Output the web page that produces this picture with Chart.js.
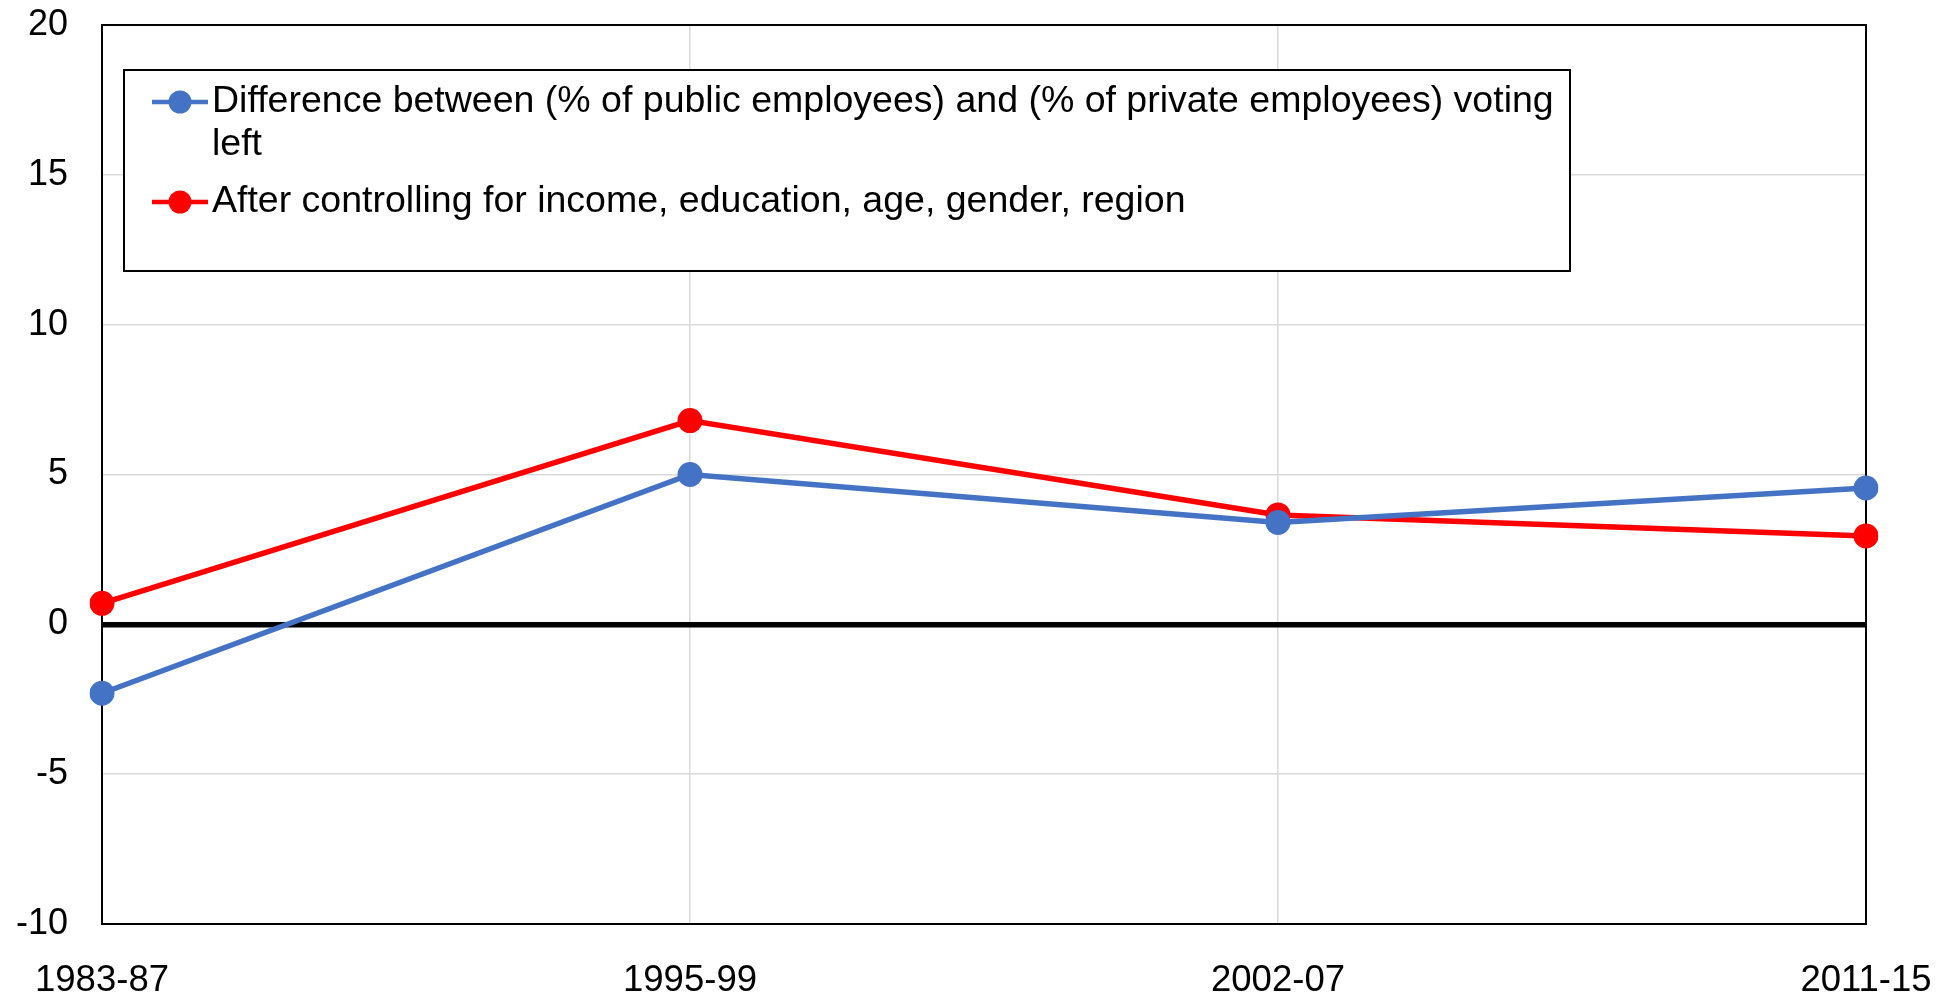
<!DOCTYPE html>
<html>
  <head>
    <title>Public vs private employees voting left</title>
    <script src="https://cdn.jsdelivr.net/npm/chart.js"></script>
    <style>
      html, body { margin: 0; padding: 0; background: #fff; }
      .chart-container { width: 1955px; height: 997px; position: relative; }
    </style>
  </head>
  <body>
    <div class="chart-container">
      <canvas id="chart"></canvas>
    </div>

    <script>
      // Data
      const periods = ['1983-87', '1995-99', '2002-07', '2011-15'];
      const rawGap = [-2.3, 5.0, 3.4, 4.55];
      const controlledGap = [0.7, 6.8, 3.65, 2.95];
      const yTicks = [-10, -5, 0, 5, 10, 15, 20];

      const seriesLabels = [
        'Difference between (% of public employees) and (% of private employees) voting left',
        'After controlling for income, education, age, gender, region'
      ];

      const FONT = '"Liberation Sans", Arial, sans-serif';

      // box around plot area, drawn under the lines
      const plotFrame = {
        id: 'plotFrame',
        beforeDatasetsDraw(chart) {
          const a = chart.chartArea;
          const ctx = chart.ctx;
          ctx.save();
          ctx.strokeStyle = '#000';
          ctx.lineWidth = 2;
          ctx.strokeRect(a.left, a.top, a.right - a.left, a.bottom - a.top);
          ctx.restore();
        }
      };

      // legend inside the plot, with a black box
      const legendBox = {
        id: 'legendBox',
        afterDraw(chart) {
          const ctx = chart.ctx;
          ctx.save();
          ctx.fillStyle = '#fff';
          ctx.fillRect(124, 70, 1446, 201);
          ctx.lineWidth = 2;
          ctx.strokeStyle = '#000';
          ctx.strokeRect(124, 70, 1446, 201);

          ctx.font = '37.5px ' + FONT;
          ctx.textBaseline = 'middle';
          let y = 102;
          chart.data.datasets.forEach(ds => {
            ctx.strokeStyle = ds.borderColor;
            ctx.lineWidth = 4.5;
            ctx.beginPath();
            ctx.moveTo(152, y);
            ctx.lineTo(208, y);
            ctx.stroke();
            ctx.fillStyle = ds.borderColor;
            ctx.beginPath();
            ctx.arc(180, y, 11.5, 0, Math.PI * 2);
            ctx.fill();

            // wrap the label
            const words = ds.label.split(' ');
            const lines = [];
            let cur = '';
            words.forEach(w => {
              const test = cur ? cur + ' ' + w : w;
              if (ctx.measureText(test).width > 1352 && cur) {
                lines.push(cur);
                cur = w;
              } else {
                cur = test;
              }
            });
            lines.push(cur);

            ctx.fillStyle = '#000';
            lines.forEach((l, i) => ctx.fillText(l, 212, y + i * 42.5));
            y += (lines.length - 1) * 42.5 + 57.5;
          });
          ctx.restore();
        }
      };

      const ctx = document.getElementById('chart').getContext('2d');
      new Chart(ctx, {
        type: 'line',
        data: {
          labels: periods,
          datasets: [
            {
              label: seriesLabels[0],
              data: rawGap,
              borderColor: '#4472C4',
              backgroundColor: '#4472C4',
              borderWidth: 5.5,
              pointRadius: 12.5,
              pointHoverRadius: 12.5,
              pointBorderWidth: 0,
              fill: false,
              tension: 0
            },
            {
              label: seriesLabels[1],
              data: controlledGap,
              borderColor: '#FF0000',
              backgroundColor: '#FF0000',
              borderWidth: 5.5,
              pointRadius: 12.5,
              pointHoverRadius: 12.5,
              pointBorderWidth: 0,
              fill: false,
              tension: 0
            }
          ]
        },
        options: {
          responsive: true,
          maintainAspectRatio: false,
          animation: false,
          layout: {
            padding: { top: 25, right: 89, left: 0, bottom: 0 }
          },
          plugins: {
            legend: { display: false },
            tooltip: { enabled: false }
          },
          scales: {
            x: {
              offset: false,
              grid: {
                color: '#d9d9d9',
                lineWidth: 1.5,
                drawTicks: false
              },
              border: { display: false },
              ticks: {
                color: '#000',
                font: { family: FONT, size: 36.5 },
                padding: 35,
                maxRotation: 0,
                autoSkip: false
              },
              afterFit(scale) {
                scale.height = 73;
                scale.paddingLeft = 0;
                scale.paddingRight = 0;
              }
            },
            y: {
              min: yTicks[0],
              max: yTicks[yTicks.length - 1],
              afterBuildTicks(scale) {
                scale.ticks = yTicks.map(v => ({ value: v }));
              },
              grid: {
                color: c => (c.tick && c.tick.value === 0 ? '#000' : '#d9d9d9'),
                lineWidth: c => (c.tick && c.tick.value === 0 ? 5.5 : 1.5),
                drawTicks: false
              },
              border: { display: false },
              ticks: {
                color: '#000',
                font: { family: FONT, size: 36 },
                padding: 34
              },
              afterFit(scale) {
                scale.width = 102;
                scale.paddingTop = 0;
                scale.paddingBottom = 0;
              }
            }
          }
        },
        plugins: [plotFrame, legendBox]
      });
    </script>
  </body>
</html>
